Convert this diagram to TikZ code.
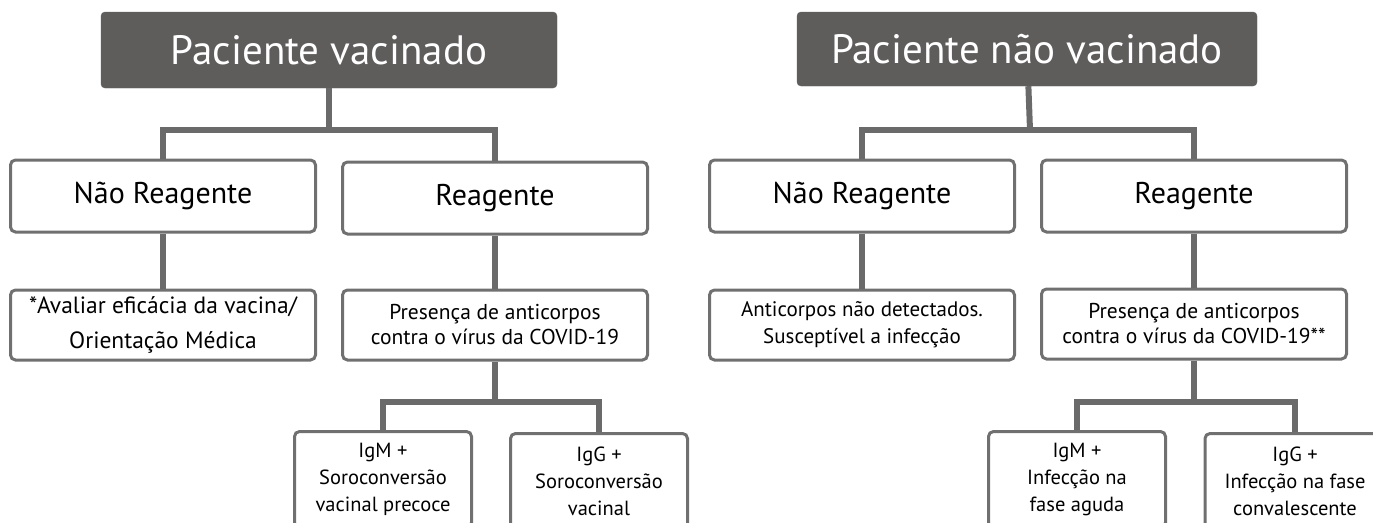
\documentclass[tikz,border=0pt]{standalone}
\usepackage{fontspec}
\setmainfont{PT Sans}
\usetikzlibrary{positioning,calc}
\definecolor{rootgray}{HTML}{5F5C5C}
\definecolor{boxgray}{HTML}{707070}
\definecolor{linegray}{HTML}{6A6A6A}

\begin{document}
\begin{tikzpicture}[x=1pt,y=-1pt] % one unit = one pixel of the sketch, y grows downwards
\tikzset{root/.style={fill=rootgray, draw=rootgray, rounded corners=4pt, text=white, font=\fontsize{41}{48}\selectfont, minimum width=456pt, minimum height=76pt}} % dark header
\tikzset{result/.style={draw=boxgray, line width=3pt, rounded corners=5pt, fill=white, text=black, font=\fontsize{30}{36}\selectfont, minimum width=305pt, minimum height=72pt}} % test result
\tikzset{info/.style={result, align=center, font=\fontsize{21.5}{25}\selectfont, minimum height=70pt}} % meaning of the result
\tikzset{ig/.style={result, anchor=north, font=\fontsize{20.5}{27}\selectfont, minimum width=177pt, minimum height=96pt, align=center}} % antibody class
\tikzset{link/.style={draw=linegray, line width=6pt}}
\useasboundingbox (0,0) rectangle (1373,522);
\clip (0,0) rectangle (1373,522);

% vaccinated patient
\node[root] (vac) at (329,50) {Paciente vacinado};
\node[result] (vacneg) at (163,196) {Não Reagente};
\node[result] (vacpos) at (495,198) {Reagente};
\node[info, font=\fontsize{23.5}{35}\selectfont] (vacneginfo) at (163,325) {*Avaliar eficácia da vacina/\\Orientação Médica};
\node[info] (vacposinfo) at (495,325) {Presença de anticorpos\\contra o vírus da COVID-19};
\node[ig] (vacigm) at (383,430) {IgM +\\Soroconversão\\vacinal precoce};
\node[ig] (vacigg) at (599,432) {IgG +\\Soroconversão\\vacinal};

\coordinate (vacbar) at (329,130);
\coordinate (vacbar2) at (495,402);
\draw[link] (vac) -- (vacbar);
\draw[link] (vacneg.north) |- (vacbar) -| (vacpos.north);
\draw[link] (vacneg) -- (vacneginfo);
\draw[link] (vacpos) -- (vacposinfo);
\draw[link] (vacposinfo) -- (vacbar2);
\draw[link] (vacigm.north) |- (vacbar2) -| (vacigg.north);

% unvaccinated patient
\node[root, minimum width=460pt, minimum height=74pt] (unv) at (1027,49) {Paciente não vacinado};
\node[result] (unvneg) at (862,196) {Não Reagente};
\node[result] (unvpos) at (1194,196) {Reagente};
\node[info, font=\fontsize{21}{27}\selectfont] (unvneginfo) at (862,325) {Anticorpos não detectados.\\Susceptível a infecção};
\node[info] (unvposinfo) at (1194,324) {Presença de anticorpos\\contra o vírus da COVID-19**};
\node[ig] (unvigm) at (1077,430) {IgM +\\Infecção na\\fase aguda};
\node[ig, minimum width=180pt] (unvigg) at (1295,432) {IgG +\\Infecção na fase\\convalescente};

\coordinate (unvbar) at (1030,130);
\coordinate (unvbar2) at (1194,402);
\draw[link] (unv) -- (unvbar);
\draw[link] (unvneg.north) |- (unvbar) -| (unvpos.north);
\draw[link] (unvneg) -- (unvneginfo);
\draw[link] (unvpos) -- (unvposinfo);
\draw[link] (unvposinfo) -- (unvbar2);
\draw[link] (unvigm.north) |- (unvbar2) -| (unvigg.north);
\end{tikzpicture}
\end{document}
